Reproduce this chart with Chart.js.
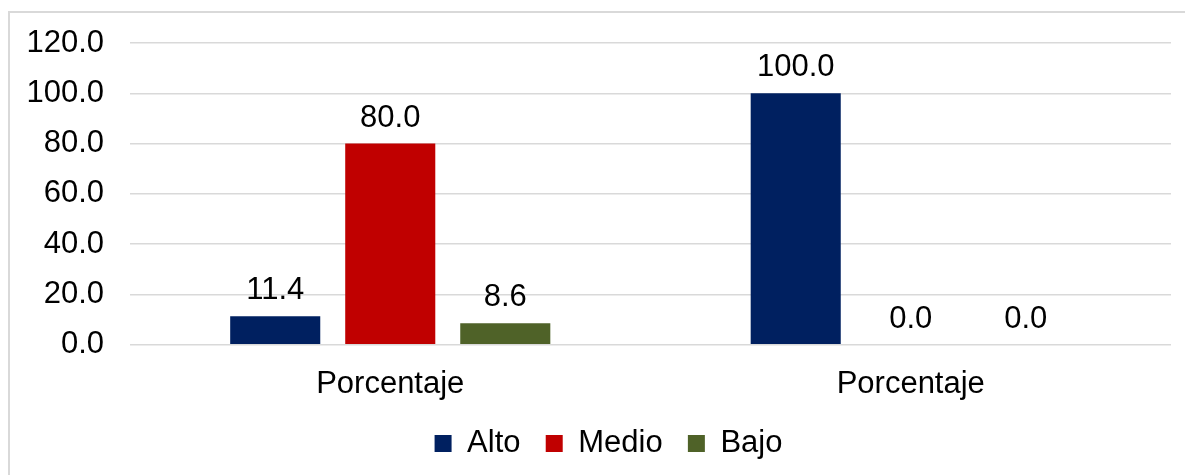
<!DOCTYPE html>
<html>
<head>
<meta charset="utf-8">
<script src="https://cdn.jsdelivr.net/npm/chart.js"></script>
<style>
    body { margin: 0; background: #fff; }
    #wrap {
        position: absolute;
        left: 8px;
        top: 11px;
        width: 1177px;
        height: 464px;
        border-left: 2px solid #d9d9d9;
        border-top: 2px solid #d9d9d9;
    }
</style>
</head>
<body>
<div id="wrap"><canvas id="chart"></canvas></div>

<script>
    const categories = ['Porcentaje', 'Porcentaje'];
    const alto = [11.4, 100.0];
    const medio = [80.0, 0.0];
    const bajo = [8.6, 0.0];
    const yTicks = [0, 20, 40, 60, 80, 100, 120];

    // draws the value above each bar
    const valueLabels = {
        id: 'valueLabels',
        afterDatasetsDraw(chart) {
            const ctx = chart.ctx;
            ctx.save();
            ctx.font = '31px "Liberation Sans", Arial, sans-serif';
            ctx.fillStyle = '#000';
            ctx.textAlign = 'center';
            ctx.textBaseline = 'alphabetic';
            chart.data.datasets.forEach((ds, i) => {
                chart.getDatasetMeta(i).data.forEach((bar, j) => {
                    ctx.fillText(ds.data[j].toFixed(1), bar.x, bar.y - 17);
                });
            });
            ctx.restore();
        }
    };

    // nudge the legend so it sits where the original one is
    const legendNudge = {
        id: 'legendNudge',
        afterLayout(chart) {
            const lg = chart.legend;
            lg.left += 18; lg.right += 18;
            lg.top -= 4; lg.bottom -= 4;
        }
    };

    Chart.defaults.font.family = '"Liberation Sans", Arial, sans-serif';
    Chart.defaults.font.size = 31;
    Chart.defaults.color = '#000';

    new Chart(document.getElementById('chart'), {
        type: 'bar',
        data: {
            labels: categories,
            datasets: [
                { label: 'Alto', data: alto, backgroundColor: '#002060' },
                { label: 'Medio', data: medio, backgroundColor: '#c00000' },
                { label: 'Bajo', data: bajo, backgroundColor: '#4f6228' }
            ]
        },
        options: {
            responsive: true,
            maintainAspectRatio: false,
            animation: false,
            layout: { padding: { top: 0, right: 16, left: 0, bottom: 4 } },
            datasets: {
                bar: { categoryPercentage: 0.663, barPercentage: 0.783 }
            },
            plugins: {
                legend: {
                    position: 'bottom',
                    labels: {
                        boxWidth: 17,
                        boxHeight: 17,
                        padding: 8,
                        generateLabels(chart) {
                            const items = Chart.defaults.plugins.legend.labels.generateLabels(chart);
                            items.forEach((it, i) => {
                                if (i < items.length - 1) it.text += '  ';
                            });
                            return items;
                        }
                    }
                },
                tooltip: { enabled: false }
            },
            scales: {
                x: {
                    grid: { display: false, drawTicks: false },
                    border: { display: false },
                    ticks: { padding: 21 }
                },
                y: {
                    min: 0,
                    max: 120,
                    afterFit(scale) { scale.width = 120; scale.paddingTop = 30; },
                    afterBuildTicks(scale) { scale.ticks = yTicks.map(v => ({ value: v })); },
                    grid: { color: '#d9d9d9', lineWidth: 1.5, drawTicks: false },
                    border: { display: false },
                    ticks: { padding: 26, callback: v => Number(v).toFixed(1) }
                }
            }
        },
        plugins: [valueLabels, legendNudge]
    });
</script>
</body>
</html>
